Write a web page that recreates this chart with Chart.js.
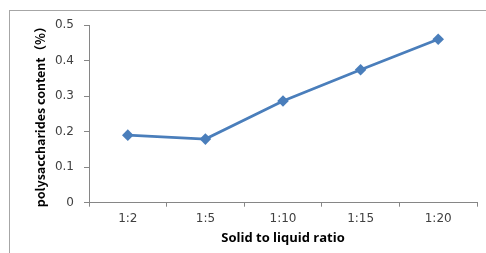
<!DOCTYPE html>
<html>
<head>
<meta charset="utf-8">
<script src="https://cdn.jsdelivr.net/npm/chart.js@4/dist/chart.umd.min.js"></script>
<style>
  html, body { margin: 0; padding: 0; background: #ffffff; }
  body { width: 486px; height: 253px; position: relative; overflow: hidden; }
  #frame { position: absolute; left: 9px; top: 10px; width: 490px; height: 260px; border: 1px solid #a6a6a6; box-sizing: border-box; }
  #wrap { position: absolute; left: 0; top: 0; width: 486px; height: 253px; }
</style>
</head>
<body>
<div id="frame"></div>
<div id="wrap"><canvas id="c" width="486" height="253"></canvas></div>
<script>
const categories = ["1:2", "1:5", "1:10", "1:15", "1:20"];
const contentValues = [0.190, 0.179, 0.286, 0.374, 0.460];
const yTickValues = [0, 0.1, 0.2, 0.3, 0.4, 0.5];
const xTitle = "Solid to liquid ratio";
const yTitle = "polysaccharides content（%）";

const blue = "#4a7ebb";
const axisGray = "#868686";
const labelGray = "#404040";

new Chart(document.getElementById("c"), {
  type: "line",
  data: {
    labels: categories,
    datasets: [{
      data: contentValues,
      borderColor: blue,
      backgroundColor: blue,
      borderWidth: 2.8,
      pointStyle: "rectRot",
      pointRadius: 5.8,
      pointHoverRadius: 5.8,
      pointBackgroundColor: blue,
      pointBorderColor: blue,
      pointBorderWidth: 0,
      tension: 0,
      fill: false
    }]
  },
  options: {
    responsive: false,
    animation: false,
    devicePixelRatio: 1,
    layout: { padding: { left: 0, right: 9, top: 25, bottom: 0 } },
    plugins: { legend: { display: false }, tooltip: { enabled: false } },
    scales: {
      x: {
        type: "category",
        offset: true,
        afterFit: s => { s.height = 50.3; },
        grid: { offset: true, drawOnChartArea: false, drawTicks: true, tickLength: 4, color: axisGray, tickColor: axisGray },
        border: { display: true, color: axisGray, width: 1 },
        ticks: { color: labelGray, padding: 5, font: { family: "DejaVu Sans", size: 12 }, maxRotation: 0 },
        title: { display: true, text: xTitle, color: "#000000", padding: { top: 0, bottom: 7 }, font: { family: "Open Sans", size: 13, weight: "bold" } }
      },
      y: {
        min: 0,
        max: 0.5,
        afterFit: s => { s.width = 89; },
        afterBuildTicks: s => { s.ticks = yTickValues.map(v => ({ value: v })); },
        grid: { drawOnChartArea: false, drawTicks: true, tickLength: 5, color: axisGray, tickColor: axisGray },
        border: { display: true, color: axisGray, width: 1 },
        ticks: { color: labelGray, padding: 10, font: { family: "DejaVu Sans", size: 12 }, callback: v => (v === 0 ? "0" : String(Math.round(v * 10) / 10)) },
        title: { display: true, text: yTitle, color: "#000000", padding: { top: 33, bottom: 0 }, font: { family: "'Liberation Sans Narrow', 'Noto Sans CJK SC', sans-serif", size: 12.5, weight: "bold" } }
      }
    }
  }
});
</script>
</body>
</html>
